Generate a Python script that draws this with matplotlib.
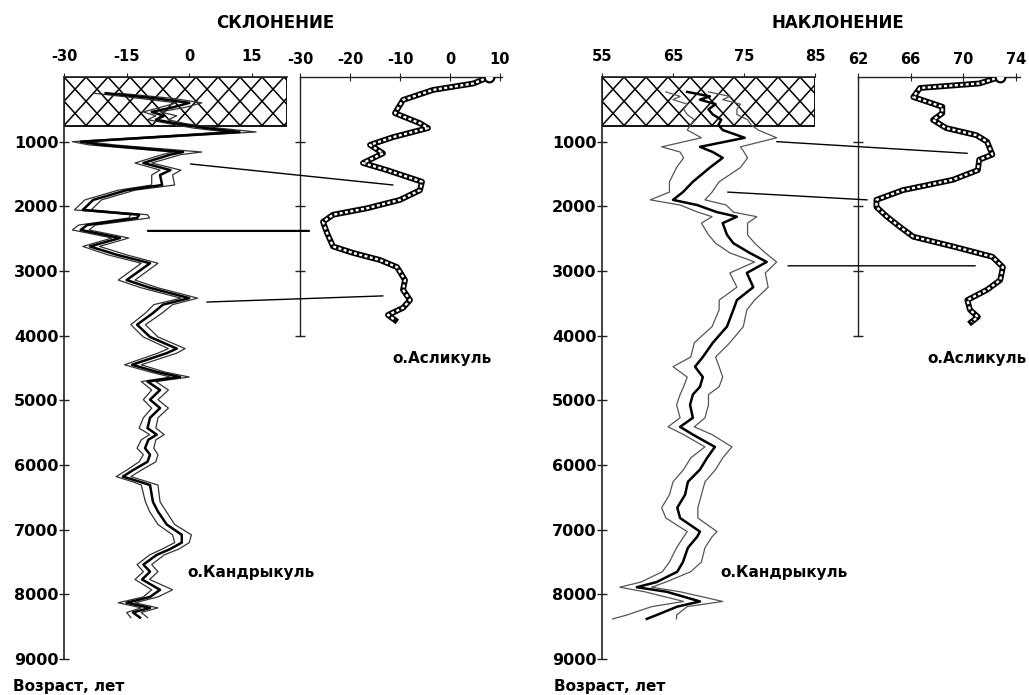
import matplotlib
matplotlib.use('Agg')
import matplotlib.pyplot as plt
from matplotlib.patches import Rectangle, ConnectionPatch
from matplotlib.collections import LineCollection

# ---------------- DATA ----------------
age_ticks = [1000, 2000, 3000, 4000, 5000, 6000, 7000, 8000, 9000]

# Kandrykul declination (mean, lower, upper)
kd_age = [250, 330, 400, 470, 540, 600, 660, 720, 790, 850, 1000, 1050, 1160, 1200, 1330,
          1440, 1515, 1670, 1750, 1900, 2055, 2130, 2180, 2290, 2365, 2490, 2620, 2750,
          2880, 3140, 3260, 3420, 3520, 3650, 3830, 4020, 4200, 4270, 4450, 4560, 4640,
          4710, 4840, 4990, 5120, 5270, 5430, 5530, 5610, 5740, 5840, 5950, 6080, 6180,
          6260, 6310, 6570, 6720, 6920, 7080, 7200, 7300, 7390, 7540, 7650, 7770, 7930,
          8040, 8130, 8210, 8280, 8360]
kd_mean = [-20, -8, 0, -4, -9, -6, -8, -3, 4, 12, -26, -21, -1.5, -4.5, -11, -4.5, -7,
           -6.5, -15, -23, -25.5, -12, -12.5, -24.5, -26, -16.6, -23.8, -17.3, -9.4, -15,
           -9.4, 0, -6.3, -8.7, -12.5, -9.4, -3, -5.4, -13.7, -7.8, -2.2, -10, -7, -9.4,
           -7, -9.4, -10, -7.8, -9.8, -10.6, -9.4, -10, -13.5, -15.9, -11.8, -9.4, -8.7,
           -7.5, -5.4, -1.8, -1.8, -4.6, -7.8, -11, -9.4, -11.3, -7, -9.4, -15, -9.4,
           -13.5, -11.8]
kd_lo = [-23, -12, -3, -7, -11, -8, -10, -5, 1, 9, -28, -24, -4, -6.5, -13, -7, -9, -9,
         -17, -25, -27.5, -14, -14.5, -26.5, -28, -18.5, -25.5, -19.5, -11.5, -17, -11.5,
         -2, -8.5, -10.5, -14, -11, -5, -7.5, -15.5, -9.5, -4.5, -11.5, -9, -11, -9, -11,
         -12, -9.5, -11.5, -12.5, -11, -12, -15, -17.5, -13.5, -11.5, -10.5, -9.5, -7.5,
         -4, -3.5, -6.5, -9.5, -12.5, -11, -13, -9, -11, -17, -11.5, -15, -14]
kd_hi = [-17, -4, 3, -1, -7, -3, -5, -1, 7, 16, -24, -18, 3, -2, -9, -2, -4, -3.5, -13,
         -21, -23.5, -10, -9.5, -22.5, -24, -14.5, -21.5, -15, -7.5, -13, -7.5, 2, -4,
         -6.5, -10.5, -7.5, -1, -3, -11.5, -6, 0, -8, -5, -7.5, -5, -7.5, -8, -6, -8,
         -8.5, -7.5, -8, -11.5, -14, -10, -7.5, -7, -5.5, -3.5, 0.5, 0, -2.5, -6, -9,
         -7.5, -9.5, -4, -7.5, -13, -7.5, -11.5, -10]

# Kandrykul inclination (mean, lower, upper)
ki_age = [230, 300, 350, 420, 500, 580, 660, 740, 820, 940, 1080, 1160, 1250, 1400, 1620,
          1780, 1900, 1980, 2090, 2160, 2260, 2440, 2570, 2720, 2860, 3030, 3250, 3450,
          3600, 3860, 4110, 4330, 4480, 4640, 4790, 4910, 5070, 5270, 5410, 5530, 5720,
          5890, 6070, 6260, 6460, 6660, 6820, 7030, 7110, 7280, 7500, 7650, 7810, 7890,
          7960, 8110, 8190, 8320, 8380]
ki_mean = [67, 70.2, 68.8, 71, 70, 70.6, 71.8, 71.4, 72, 75.1, 68.8, 70.6, 72, 70.2, 67.8,
           66.4, 65, 68.4, 71.2, 74, 72, 72.6, 73.5, 75.8, 78.2, 75.4, 76.3, 74, 73.5,
           72.6, 70.6, 69.2, 68.1, 69.2, 68.8, 67.8, 67.4, 67.8, 66, 67.8, 70.9, 69.8,
           68.8, 67.1, 66.7, 65.6, 66, 68.8, 68.4, 67.1, 66.4, 65.6, 62.7, 59.9, 64.1,
           68.8, 65.6, 62.7, 61.3]
ki_lo = [64, 66, 65, 67, 66.5, 67, 68, 67.5, 67, 69, 63.4, 66, 66.5, 65.5, 64.5, 64.5,
         61.8, 66, 68.5, 70.5, 69, 70, 71, 73, 76.5, 73, 74, 71.5, 71.5, 70.5, 68, 67.5,
         65, 67, 66.5, 66, 65.5, 66, 64.3, 66.5, 69.5, 67.5, 66.5, 65, 64.5, 63.4, 64, 67,
         66.5, 65.5, 64.5, 63.5, 60.5, 57.5, 61, 66.5, 62, 58.5, 56.5]
ki_hi = [70, 73, 72, 74.5, 74, 74, 75.5, 76, 77, 79.6, 74.5, 75, 75.5, 74.5, 71.5, 70.5,
         69.5, 72.5, 73.5, 76.8, 75.5, 75.5, 76.5, 78, 79.6, 78, 78.4, 76.5, 75.4, 74.9,
         73, 71, 71.5, 72, 71.5, 70, 70, 69.5, 68, 70.5, 73.3, 72, 71, 69.5, 69, 68.5,
         68.5, 71.2, 70.5, 69.5, 69, 67.5, 64, 62, 66, 72, 67, 65.5, 65.5]

# Aslikul declination and inclination
ad_age = [0, 100, 200, 355, 560, 715, 790, 930, 1050, 1180, 1330, 1440, 1620, 1750, 1900,
          2030, 2130, 2240, 2410, 2620, 2720, 2830, 2940, 3140, 3290, 3450, 3570, 3680, 3760]
ad_val = [7.8, 4.7, -3.4, -9.4, -11, -6, -4.4, -11.4, -16, -13.4, -17.4, -12.6, -5.6, -6,
          -10, -16.6, -23.4, -25.4, -24.6, -23.4, -19.4, -14, -10.6, -9, -9.4, -8, -9.4,
          -12.4, -11]
ai_age = [0, 100, 170, 310, 460, 560, 665, 790, 900, 1000, 1200, 1280, 1440, 1590, 1750,
          1900, 2010, 2160, 2320, 2470, 2620, 2780, 2940, 3140, 3290, 3450, 3600, 3710, 3790]
ai_val = [72.8, 71.2, 66.7, 66.2, 68.4, 68.4, 67.7, 68.7, 71, 71.8, 72.2, 71.2, 71.1, 69.2,
          65.4, 63.4, 63.4, 64.2, 65.2, 66.2, 69.2, 72.2, 73, 72.8, 71.8, 70.3, 70.5, 71.1,
          70.6]

# correlation lines: (main value, main age) -> (inset value, inset age)
dec_links = [((0.3, 1345), (-11.4, 1670)), ((-9.9, 2380), (-28.2, 2380)),
             ((4.2, 3480), (-13.4, 3385))]
inc_links = [((79.6, 1000), (70.3, 1180)), ((72.7, 1780), (62.7, 1900)),
             ((81.2, 2920), (70.9, 2920))]

# ---------------- FIGURE ----------------
W, H = 1029, 695
plt.rcParams['font.family'] = ['DejaVu Sans']
plt.rcParams['font.weight'] = 'bold'
fig = plt.figure(figsize=(W / 100, H / 100), dpi=100)
SP = '#222222'


def px_axes(x0, x1, y0=77, y1=659):
    return fig.add_axes([x0 / W, 1 - y1 / H, (x1 - x0) / W, (y1 - y0) / H])


def setup_main(ax, xlim, xticks):
    ax.set_xlim(*xlim)
    ax.set_ylim(9000, 0)
    ax.patch.set_alpha(0)
    for s in ['right', 'bottom']:
        ax.spines[s].set_visible(False)
    for s in ['left', 'top']:
        ax.spines[s].set_color(SP)
        ax.spines[s].set_linewidth(1.2)
    ax.spines['left'].set_bounds(0, 9000)
    ax.xaxis.tick_top()
    ax.set_xticks(xticks)
    ax.set_xticklabels([f"{t:g}" for t in xticks])
    ax.tick_params(axis='x', direction='out', length=3, pad=6.5, labelsize=10.5, color=SP)
    ax.set_yticks(age_ticks)
    ax.set_yticklabels([str(t) for t in age_ticks])
    ax.tick_params(axis='y', direction='inout', length=7, width=1, pad=0.5,
                   labelsize=11.5, color=SP)


def setup_inset(ax, xlim, xticks):
    ax.set_xlim(*xlim)
    ax.set_ylim(9000, 0)
    ax.patch.set_alpha(0)
    for s in ['right', 'bottom']:
        ax.spines[s].set_visible(False)
    for s in ['left', 'top']:
        ax.spines[s].set_color(SP)
        ax.spines[s].set_linewidth(1.0)
    ax.spines['left'].set_bounds(0, 4000)
    ax.xaxis.tick_top()
    ax.set_xticks(xticks)
    ax.set_xticklabels([f"{t:g}" for t in xticks])
    ax.tick_params(axis='x', direction='inout', length=6, pad=4.5, labelsize=10.5, color=SP)
    ax.set_yticks([1000, 2000, 3000, 4000])
    ax.set_yticklabels([])
    ax.tick_params(axis='y', direction='inout', length=7, width=1, color=SP)


def hatch_box(ax, x0, x1, y0, y1, dx=22.0, slope=1.1):
    rect = Rectangle((x0, y0), x1 - x0, y1 - y0, fill=False, edgecolor='black',
                     lw=1.3, zorder=2)
    ax.add_patch(rect)
    T = ax.transData
    p0 = T.transform((x0, y0))
    p1 = T.transform((x1, y1))
    left, right = min(p0[0], p1[0]), max(p0[0], p1[0])
    bot, top = min(p0[1], p1[1]), max(p0[1], p1[1])
    h = top - bot
    run = h / slope
    inv = T.inverted()
    segs = []
    n = -int(run / dx) - 2
    while left + n * dx < right + dx:
        k = left + n * dx
        segs.append(inv.transform([(k, top), (k + run, bot)]))
        segs.append(inv.transform([(k, bot), (k + run, top)]))
        n += 1
    lc = LineCollection(segs, colors='black', linewidths=1.1, zorder=2)
    ax.add_collection(lc)
    lc.set_clip_path(rect)


def chain(ax, x, y):
    ax.plot(x, y, color='black', lw=4.2, solid_joinstyle='round', zorder=3)
    ax.plot(x, y, color='white', lw=1.7, dashes=(1.3, 1.0), zorder=4)
    ax.plot(x[:1], y[:1], 'o', ms=7, mfc='white', mec='black', mew=1.6, zorder=5)


def connect(axA, pA, axB, pB, lw=1.0):
    cp = ConnectionPatch(xyA=pA, coordsA=axA.transData, xyB=pB, coordsB=axB.transData,
                         color='black', lw=lw, zorder=6)
    fig.add_artist(cp)


# ---- Declination panel ----
axd = px_axes(64, 287)
setup_main(axd, (-30, 23.4), [-30, -15, 0, 15])
hatch_box(axd, -30, 23.4, 0, 750)
axd.plot(kd_lo, kd_age, color='#333333', lw=0.9, zorder=3)
axd.plot(kd_hi, kd_age, color='#333333', lw=0.9, zorder=3)
axd.plot(kd_mean, kd_age, color='black', lw=1.8, zorder=4)

axdi = px_axes(300, 502)
setup_inset(axdi, (-30, 10.4), [-30, -20, -10, 0, 10])
chain(axdi, ad_val, ad_age)

for (pA, pB), lw in zip(dec_links, [1.0, 1.6, 1.0]):
    connect(axd, pA, axdi, pB, lw)

# ---- Inclination panel ----
axi = px_axes(602, 815)
setup_main(axi, (55, 85), [55, 65, 75, 85])
hatch_box(axi, 55, 85, 0, 750)
axi.plot(ki_lo, ki_age, color='#555555', lw=0.9, zorder=3)
axi.plot(ki_hi, ki_age, color='#555555', lw=0.9, zorder=3)
axi.plot(ki_mean, ki_age, color='black', lw=1.8, zorder=4)

axii = px_axes(858, 1020)
setup_inset(axii, (62, 74.3), [62, 66, 70, 74])
chain(axii, ai_val, ai_age)

for (pA, pB) in inc_links:
    connect(axi, pA, axii, pB, 1.0)

# ---- Texts ----
def ftext(x, y, s, size, ha='left'):
    fig.text(x / W, 1 - y / H, s, fontsize=size, fontweight='bold', ha=ha, va='center')

ftext(275, 23, 'СКЛОНЕНИЕ', 12, 'center')
ftext(838, 23, 'НАКЛОНЕНИЕ', 12, 'center')
ftext(392, 359, 'о.Асликуль', 11)
ftext(927, 359, 'о.Асликуль', 11)
ftext(187, 572, 'о.Кандрыкуль', 11)
ftext(720, 572, 'о.Кандрыкуль', 11)
ftext(13, 687, 'Возраст, лет', 11)
ftext(554, 687, 'Возраст, лет', 11)

fig.savefig('out.png', dpi=100)
